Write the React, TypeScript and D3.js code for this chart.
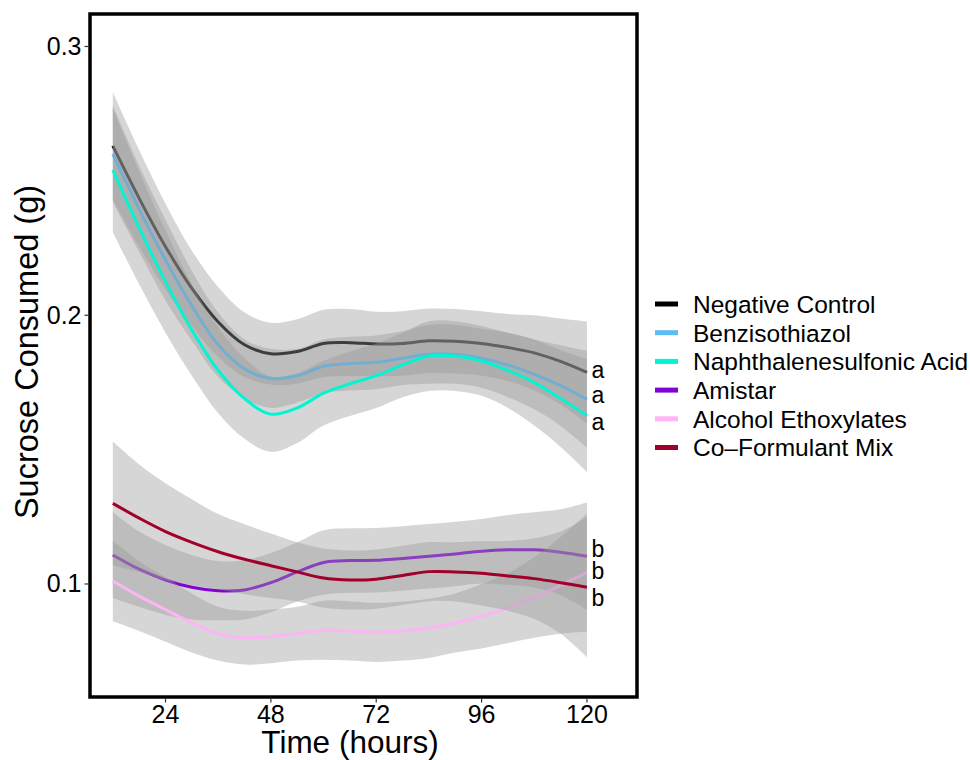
import React from "react";
import * as d3 from "d3";

const hours = [12, 18, 24, 30, 36, 42, 48, 54, 60, 66, 72, 78, 84, 90, 96, 102, 108, 114, 120];

const seriesNames = [
  "Negative Control",
  "Benzisothiazol",
  "Naphthalenesulfonic Acid",
  "Amistar",
  "Alcohol Ethoxylates",
  "Co\u2013Formulant Mix",
];
const seriesColors = ["#000000", "#5BBCF6", "#00F5D2", "#8004D6", "#FDB5F5", "#A1002A"];

const negativeControl = [0.263, 0.2435, 0.2255, 0.210, 0.1975, 0.189, 0.1857, 0.1865, 0.1895, 0.1898, 0.1893, 0.1895, 0.1905, 0.1903, 0.1895, 0.188, 0.186, 0.1828, 0.1787];
const benzisothiazol = [0.260, 0.2395, 0.2205, 0.2035, 0.189, 0.180, 0.1765, 0.1775, 0.181, 0.182, 0.1825, 0.184, 0.1855, 0.1855, 0.184, 0.1815, 0.178, 0.1738, 0.1687];
const naphthalenesulfonic = [0.254, 0.2325, 0.2125, 0.1945, 0.1795, 0.169, 0.1632, 0.1655, 0.171, 0.1745, 0.1775, 0.1815, 0.1848, 0.1848, 0.183, 0.1795, 0.175, 0.169, 0.1627];
const amistar = [0.1108, 0.1055, 0.1015, 0.0988, 0.0975, 0.0978, 0.1005, 0.1045, 0.108, 0.1087, 0.1088, 0.1095, 0.1103, 0.1112, 0.1122, 0.1127, 0.1127, 0.1118, 0.1103];
const alcoholEthoxylates = [0.1011, 0.0955, 0.0905, 0.0855, 0.0815, 0.08, 0.0805, 0.0815, 0.0828, 0.0825, 0.082, 0.0825, 0.0835, 0.0855, 0.088, 0.091, 0.095, 0.0995, 0.1042];
const coFormulantMix = [0.130, 0.1245, 0.1195, 0.1155, 0.112, 0.1092, 0.1068, 0.1045, 0.1022, 0.1015, 0.1018, 0.1032, 0.1046, 0.1045, 0.104, 0.103, 0.102, 0.1005, 0.0988];

const seNegativeControl = [0.020, 0.018, 0.016, 0.014, 0.013, 0.012, 0.0115, 0.012, 0.0125, 0.0125, 0.012, 0.012, 0.012, 0.012, 0.012, 0.0125, 0.014, 0.016, 0.019];
const seBenzisothiazol = [0.018, 0.016, 0.015, 0.013, 0.012, 0.011, 0.011, 0.010, 0.010, 0.010, 0.010, 0.010, 0.011, 0.011, 0.011, 0.012, 0.013, 0.015, 0.018];
const seNaphthalenesulfonic = [0.023, 0.021, 0.019, 0.017, 0.016, 0.015, 0.014, 0.013, 0.012, 0.012, 0.012, 0.012, 0.013, 0.013, 0.013, 0.014, 0.016, 0.018, 0.021];
const seAmistar = [0.016, 0.014, 0.013, 0.012, 0.011, 0.011, 0.011, 0.011, 0.012, 0.012, 0.012, 0.012, 0.012, 0.012, 0.012, 0.013, 0.014, 0.016, 0.020];
const seAlcoholEthoxylates = [0.015, 0.013, 0.012, 0.011, 0.010, 0.010, 0.010, 0.010, 0.011, 0.011, 0.011, 0.011, 0.011, 0.011, 0.012, 0.013, 0.015, 0.018, 0.022];
const seCoFormulantMix = [0.023, 0.020, 0.018, 0.016, 0.014, 0.013, 0.012, 0.011, 0.011, 0.011, 0.011, 0.011, 0.011, 0.011, 0.012, 0.013, 0.015, 0.019, 0.026];

const seriesValues = [negativeControl, benzisothiazol, naphthalenesulfonic, amistar, alcoholEthoxylates, coFormulantMix];
const seriesSE = [seNegativeControl, seBenzisothiazol, seNaphthalenesulfonic, seAmistar, seAlcoholEthoxylates, seCoFormulantMix];

const xTicks = [24, 48, 72, 96, 120];
const yTicks = [0.1, 0.2, 0.3];
const yTickLabels = ["0.1", "0.2", "0.3"];

const groupLabels = ["a", "a", "a", "b", "b", "b"];
const groupLabelY = [0.1767, 0.1674, 0.1573, 0.1101, 0.1019, 0.0918];
const groupLabelX = 122.5;

const W = 970;
const H = 760;
const panel = { left: 90, right: 637, top: 14, bottom: 697 };
const FONT = "'Liberation Sans', Arial, Helvetica, sans-serif";

export default function App() {
  const x = d3.scaleLinear().domain([6.8, 131.4]).range([panel.left, panel.right]);
  const y = d3.scaleLinear().domain([0.05795, 0.31209]).range([panel.bottom, panel.top]);

  const line = d3
    .line<[number, number]>()
    .x((d) => x(d[0]))
    .y((d) => y(d[1]))
    .curve(d3.curveCatmullRom.alpha(0.5));
  const area = d3
    .area<[number, number, number]>()
    .x((d) => x(d[0]))
    .y0((d) => y(d[1] - d[2]))
    .y1((d) => y(d[1] + d[2]))
    .curve(d3.curveCatmullRom.alpha(0.5));

  const legendY0 = 304;
  const legendStep = 28.7;

  return (
    <svg
      width={W}
      height={H}
      style={{ position: "absolute", left: 0, top: 0, background: "#fff" }}
      fontFamily={FONT}
    >
      <defs>
        <clipPath id="panelClip">
          <rect x={panel.left} y={panel.top} width={panel.right - panel.left} height={panel.bottom - panel.top} />
        </clipPath>
      </defs>
      <rect x={0} y={0} width={W} height={H} fill="#fff" />
      <g clipPath="url(#panelClip)">
        {seriesNames.map((name, i) => {
          const vals = seriesValues[i];
          const se = seriesSE[i];
          const pts = hours.map((h, j) => [h, vals[j]] as [number, number]);
          const band = hours.map((h, j) => [h, vals[j], se[j]] as [number, number, number]);
          return (
            <g key={name}>
              <path d={area(band) || ""} fill="#999999" fillOpacity={0.4} stroke="none" />
              <path d={line(pts) || ""} fill="none" stroke={seriesColors[i]} strokeWidth={3} />
            </g>
          );
        })}
      </g>
      {groupLabels.map((t, i) => (
        <text key={i} x={x(groupLabelX)} y={y(groupLabelY[i])} fontSize={23} textAnchor="middle" fill="#000">
          {t}
        </text>
      ))}
      <rect
        x={panel.left}
        y={panel.top}
        width={panel.right - panel.left}
        height={panel.bottom - panel.top}
        fill="none"
        stroke="#000"
        strokeWidth={3.5}
      />
      {xTicks.map((t) => (
        <g key={t}>
          <line x1={x(t)} x2={x(t)} y1={panel.bottom + 1.5} y2={panel.bottom + 5.5} stroke="#333" strokeWidth={1.2} />
          <text x={x(t)} y={722.5} fontSize={25} textAnchor="middle" fill="#000">
            {t}
          </text>
        </g>
      ))}
      {yTicks.map((t, i) => (
        <g key={t}>
          <line x1={panel.left - 5.5} x2={panel.left - 1.5} y1={y(t)} y2={y(t)} stroke="#333" strokeWidth={1.2} />
          <text x={81.5} y={y(t) + 8.5} fontSize={25} textAnchor="end" fill="#000">
            {yTickLabels[i]}
          </text>
        </g>
      ))}
      <text x={350} y={753} fontSize={31.5} textAnchor="middle" fill="#000">
        Time (hours)
      </text>
      <text transform={`translate(38, 352) rotate(-90)`} fontSize={32.5} textAnchor="middle" fill="#000">
        Sucrose Consumed (g)
      </text>
      {seriesNames.map((name, i) => (
        <g key={name} transform={`translate(0, ${legendY0 + i * legendStep})`}>
          <line x1={655} x2={678} y1={0} y2={0} stroke={seriesColors[i]} strokeWidth={5} />
          <text x={693} y={8.8} fontSize={24.5} fill="#000">
            {name}
          </text>
        </g>
      ))}
    </svg>
  );
}
